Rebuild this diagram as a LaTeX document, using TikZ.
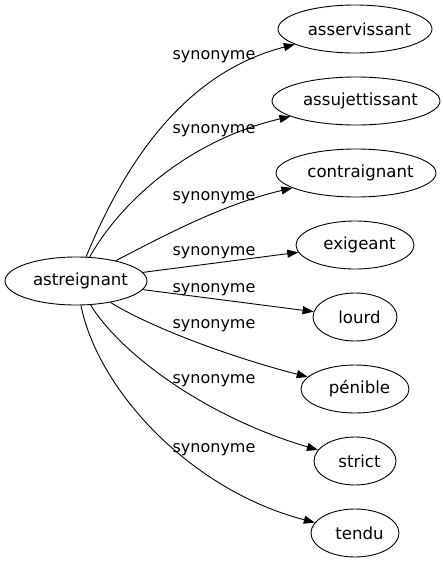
\documentclass[tikz,border=0pt]{standalone}
\usepackage{fontspec}
\setmainfont{DejaVu Sans}
\usetikzlibrary{shapes.geometric,arrows.meta}
\newcommand{\wsh}[1]{\makebox[0pt]{\hspace*{9pt}#1}}
\begin{document}
\begin{tikzpicture}[x=1pt,y=-1pt,
  every node/.style={font=\fontsize{16}{19}\selectfont},
  word/.style={draw,ellipse,line width=0.9pt,minimum height=48pt,inner sep=0pt,font=\fontsize{16.6}{19}\selectfont},
  lbl/.style={anchor=base,inner sep=0pt},
  edge/.style={draw,line width=0.9pt,-{Triangle[length=11pt,width=8pt]}}]
\useasboundingbox (0,0) rectangle (443,563);
\node[word,minimum width=142pt] (src) at (76,281) {\wsh{astreignant}};
\node[word,minimum width=154pt] (n1) at (355,29) {\wsh{asservissant}};
\node[word,minimum width=168pt] (n2) at (356,101) {\wsh{assujettissant}};
\node[word,minimum width=160pt] (n3) at (356,173) {\wsh{contraignant}};
\node[word,minimum width=118pt] (n4) at (355,245) {\wsh{exigeant}};
\node[word,minimum width=84pt] (n5) at (355,317) {\wsh{lourd}};
\node[word,minimum width=108pt] (n6) at (355,389) {\wsh{pénible}};
\node[word,minimum width=82pt] (n7) at (355,461) {\wsh{strict}};
\node[word,minimum width=88pt] (n8) at (355,533) {\wsh{tendu}};
\path[edge] (src) .. controls (118,180) and (175,75) .. (n1);
\path[edge] (src) .. controls (122,200) and (190,140) .. (n2);
\path[edge] (src) .. controls (160,238) and (220,205) .. (n3);
\path[edge] (src) -- (n4);
\path[edge] (src) -- (n5);
\path[edge] (src) .. controls (150,327) and (230,357) .. (n6);
\path[edge] (src) .. controls (118,350) and (200,415) .. (n7);
\path[edge] (src) .. controls (98,390) and (190,490) .. (n8);
\node[lbl] (l1) at (214,59) {synonyme};
\node[lbl] (l2) at (214,133) {synonyme};
\node[lbl] (l3) at (214,200) {synonyme};
\node[lbl] (l4) at (214,255) {synonyme};
\node[lbl] (l5) at (214,292) {synonyme};
\node[lbl] (l6) at (214,328) {synonyme};
\node[lbl] (l7) at (214,383) {synonyme};
\node[lbl] (l8) at (214,452) {synonyme};
\end{tikzpicture}
\end{document}
